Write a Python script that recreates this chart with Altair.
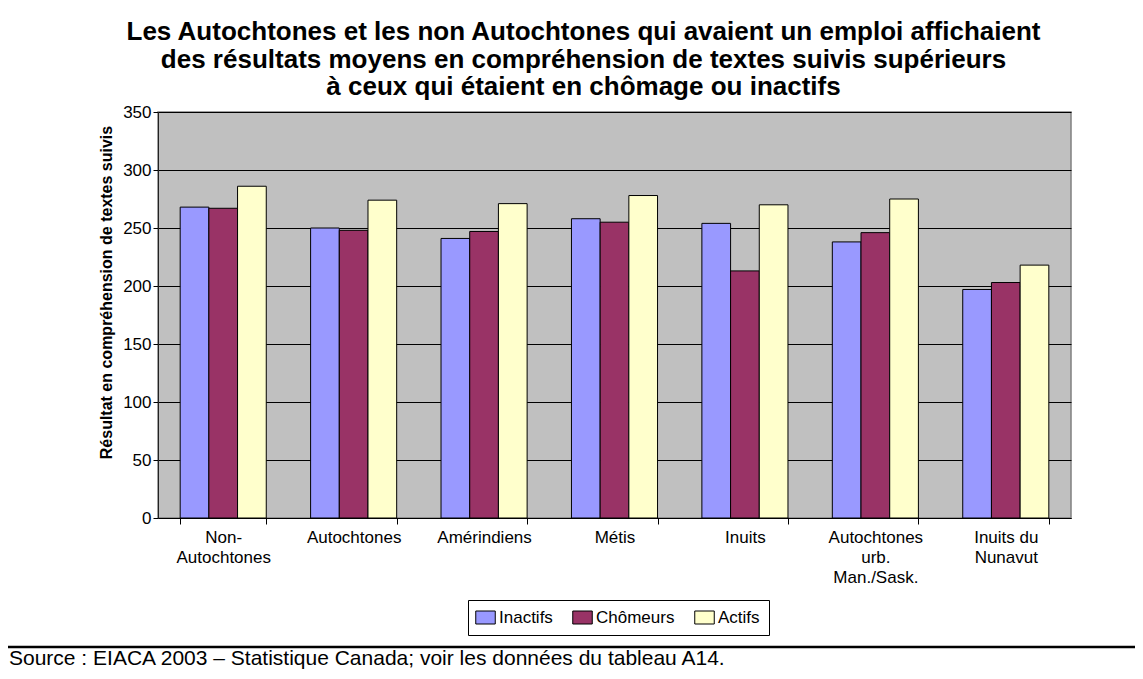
import altair as alt
import pandas as pd

# ---- data ----
categories = ["Non-|Autochtones", "Autochtones", "Amérindiens", "Métis", "Inuits",
              "Autochtones|urb.|Man./Sask.", "Inuits du|Nunavut"]
series = ["Inactifs", "Chômeurs", "Actifs"]
inactifs = [268, 250, 241, 258, 254, 238, 197]
chomeurs = [267, 248, 247, 255, 213, 246, 203]
actifs = [286, 274, 271, 278, 270, 275, 218]
colors = ["#9999FF", "#993366", "#FFFFCC"]
y_ticks = [0, 50, 100, 150, 200, 250, 300, 350]
title_lines = [
    "Les Autochtones et les non Autochtones qui avaient un emploi affichaient",
    "des résultats moyens en compréhension de textes suivis supérieurs",
    "à ceux qui étaient en chômage ou inactifs",
]
y_title = "Résultat en compréhension de textes  suivis"
source_text = ["Source : EIACA 2003 – Statistique Canada; voir les données du tableau A14."]

rows = []
for i, c in enumerate(categories):
    for s, vals in zip(series, [inactifs, chomeurs, actifs]):
        rows.append({"groupe": c, "statut": s, "score": vals[i]})
df = pd.DataFrame(rows)

FONT = "Liberation Sans"
W, H = 913, 406
PAD_L, PAD_T = 150, 104
TOTAL_W, TOTAL_H = 1127, 663

bars = alt.Chart(df).mark_bar(stroke="black", strokeWidth=1).encode(
    x=alt.X(
        "groupe:N", sort=categories,
        scale=alt.Scale(paddingInner=0.34, paddingOuter=0.17),
        axis=alt.Axis(
            title=None, labelExpr="split(datum.label, '|')", labelAngle=0,
            tickBand="extent", ticks=True, tickSize=6, tickColor="black",
            domainColor="black", domainWidth=1, labelFontSize=17, labelLineHeight=20,
            labelPadding=5, labelColor="black", labelFont=FONT, grid=False,
            labelBaseline="top",
        ),
    ),
    xOffset=alt.XOffset("statut:N", sort=series,
                        scale=alt.Scale(paddingInner=0, paddingOuter=0)),
    y=alt.Y(
        "score:Q",
        scale=alt.Scale(domain=[0, 350], nice=False, zero=True),
        axis=alt.Axis(
            values=y_ticks, title=y_title, titleFont=FONT, titleFontSize=16,
            titleFontWeight="bold", titleColor="black", titleAngle=-90,
            titleX=-52, titleY=180, titleAlign="center", titleBaseline="middle",
            labelFont=FONT, labelFontSize=17, labelColor="black", labelPadding=2,
            tickSize=5, tickColor="black", domainColor="#222222",
            grid=True, gridColor="black", gridWidth=1, gridOpacity=1,
        ),
    ),
    fill=alt.Fill(
        "statut:N", sort=series,
        scale=alt.Scale(domain=series, range=colors),
        legend=alt.Legend(
            title=None, orient="none", legendX=310, legendY=488,
            direction="horizontal", strokeColor="black", fillColor="white",
            padding=9, symbolType="M-1.5,-1H1.5V1H-1.5Z", symbolSize=169,
            symbolStrokeColor="black", symbolStrokeWidth=1, symbolOpacity=1,
            labelFont=FONT, labelFontSize=17, labelColor="black",
            columnPadding=17, labelOffset=5, cornerRadius=0,
        ),
    ),
)

rule_df = pd.DataFrame({"k": [0]})
footer_rule = alt.Chart(rule_df).mark_rule(color="black", strokeWidth=2.5).encode(
    x=alt.value(-PAD_L), x2=alt.value(TOTAL_W - PAD_L), y=alt.value(535)
)
footer_text = alt.Chart(pd.DataFrame({"t": source_text})).mark_text(
    align="left", baseline="alphabetic", font=FONT, fontSize=21, color="black"
).encode(text="t:N", x=alt.value(-149), y=alt.value(553))

chart = alt.layer(bars, footer_rule, footer_text).properties(
    width=W, height=H,
    autosize=alt.AutoSizeParams(type="none"),
    padding={"left": PAD_L, "top": PAD_T, "right": TOTAL_W - PAD_L - W,
             "bottom": TOTAL_H - PAD_T - H},
    title=alt.TitleParams(
        text=title_lines, font=FONT, fontSize=26, fontWeight="bold",
        color="black", anchor="middle", dx=-31, offset=3, lineHeight=27.5,
    ),
    background="white",
).configure_view(fill="#C0C0C0", stroke="#808080", strokeWidth=1.5)

chart.save("out.html", embed_options={"renderer": "svg", "actions": False})
